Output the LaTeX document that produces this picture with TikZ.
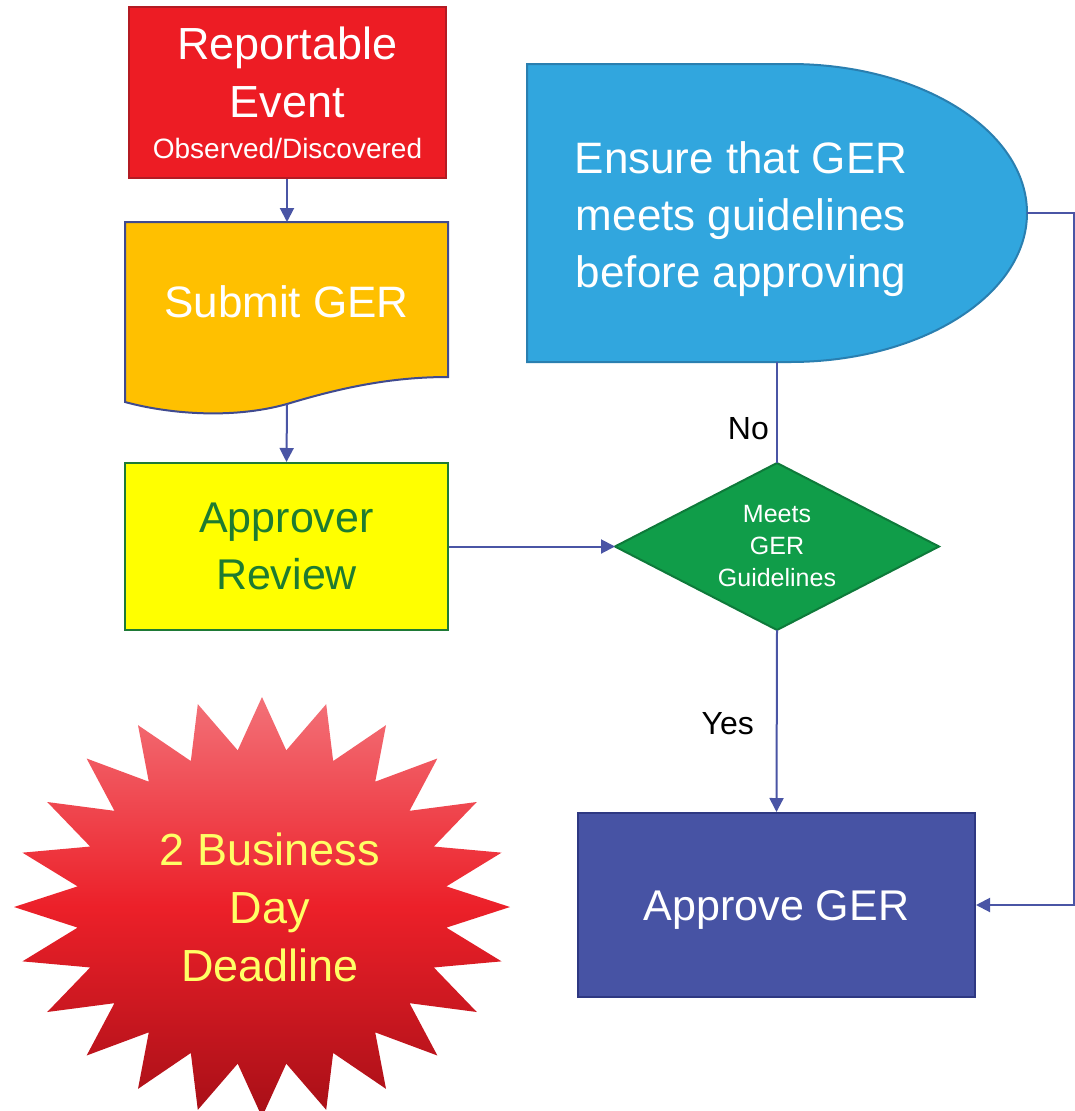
\documentclass[tikz,border=0pt]{standalone}
\usepackage{fontspec}
\setmainfont{Liberation Sans}
\usetikzlibrary{arrows.meta}
\definecolor{redfill}{HTML}{ED1C24}
\definecolor{redline}{HTML}{B31B23}
\definecolor{arrowc}{HTML}{4A55A5}
\definecolor{orangefill}{HTML}{FFC000}
\definecolor{docline}{HTML}{3F4A8F}
\definecolor{yellowfill}{HTML}{FFFF00}
\definecolor{greenline}{HTML}{1E7A36}
\definecolor{greentext}{HTML}{1E7B30}
\definecolor{diafill}{HTML}{109D49}
\definecolor{dialine}{HTML}{0E7A3A}
\definecolor{bluefill}{HTML}{31A6DE}
\definecolor{blueline}{HTML}{2A7FB0}
\definecolor{apfill}{HTML}{4753A4}
\definecolor{apline}{HTML}{2E3882}
\definecolor{startop}{HTML}{F37178}
\definecolor{starmid}{HTML}{EC2029}
\definecolor{starbot}{HTML}{A80F17}
\definecolor{staryel}{HTML}{FFFF66}
\pgfdeclareverticalshading{starshade}{100bp}{color(0bp)=(starbot); color(25bp)=(starbot); color(50bp)=(starmid); color(75bp)=(startop); color(100bp)=(startop)}
\begin{document}
\begin{tikzpicture}[x=1pt,y=-1pt,
  boxbase/.style={rectangle,inner sep=0pt,align=center,line width=2pt},
  conn/.style={draw=arrowc,line width=2pt,-{Triangle[length=14pt,width=14pt]}},
  thinconn/.style={draw=arrowc,line width=1.2pt},
  lbl/.style={font=\fontsize{32}{38}\selectfont,text=black,inner sep=0pt}
]
\useasboundingbox (0,0) rectangle (1074,1111);

% Reportable Event
\node[boxbase,fill=redfill,draw=redline,minimum width=317pt,minimum height=171pt,
  text=white,font=\fontsize{45}{58}\selectfont] (rep) at (287.5,92.5)
  {Reportable\\Event\\[-17pt]{\fontsize{28}{34}\selectfont Observed/Discovered}};

% Submit GER (document shape)
\draw[fill=orangefill,draw=docline,line width=2pt]
  (125,222) -- (448,222) -- (448,377)
  .. controls (390,377) and (340,388) .. (287,404)
  .. controls (230,420) and (165,413) .. (125,402) -- cycle;
\coordinate (subt) at (287,222);
\coordinate (subb) at (287,404);
\node[inner sep=0pt,text=white,font=\fontsize{44}{56}\selectfont] (sub) at (286.5,301.5) {Submit GER};

% Approver Review
\node[boxbase,fill=yellowfill,draw=greenline,minimum width=323pt,minimum height=167pt,
  text=greentext,font=\fontsize{43}{57}\selectfont] (rev) at (286.5,546.5)
  {Approver\\Review};

% Decision diamond
\coordinate (decw) at (615,546.5);
\coordinate (decn) at (777,463);
\coordinate (dece) at (939,546.5);
\coordinate (decs) at (777,630);
\draw[fill=diafill,draw=dialine,line width=2pt] (decw) -- (decn) -- (dece) -- (decs) -- cycle;
\node[inner sep=0pt,align=center,text=white,font=\fontsize{25}{32}\selectfont] (dec) at (777,546.5)
  {Meets\\GER\\Guidelines};

% Delay shape
\draw[fill=bluefill,draw=blueline,line width=2pt]
  (527,64) -- (790,64) .. controls (920.9,64) and (1027,130.7) .. (1027,213)
  .. controls (1027,295.3) and (920.9,362) .. (790,362) -- (527,362) -- cycle;
\coordinate (gdr) at (1027,213);
\coordinate (gdb) at (777,362);
\node[inner sep=0pt,align=center,text=white,font=\fontsize{44}{57}\selectfont] (gd) at (741,219.5)
  {Ensure that GER\\meets guidelines\\before approving};

% Approve GER
\node[boxbase,fill=apfill,draw=apline,minimum width=397pt,minimum height=184pt,
  text=white,font=\fontsize{43}{57}\selectfont,text height=31pt,text depth=0pt] (app) at (776.5,905)
  {Approve GER};

% Star
\path[shading=starshade]
  (510,907)
  \foreach \i in {0,...,23} {
    -- ({262+186*cos(15*\i+7.5)},{907-158*sin(15*\i+7.5)})
    -- ({262+248*cos(15*\i+15)},{907-210*sin(15*\i+15)})
  } -- cycle;
\node[inner sep=0pt,align=center,text=staryel,font=\fontsize{45}{58}\selectfont] (star) at (270,907)
  {2 Business\\Day\\Deadline};

% Connectors
\draw[conn] (rep.south -| subt) -- (subt);
\draw[conn] (subb) -- (rev.north);
\draw[conn] (rev.east) -- (decw);
\draw[thinconn] (decn) -- (gdb);
\draw[conn] (decs) -- (app.north);
\coordinate (c1) at (1074,213);
\coordinate (c2) at (1074,905);
\draw[conn] (gdr) -- (c1) -- (c2) -- (app.east);

% Labels
\node[lbl,anchor=base east] (no) at (769,439) {No};
\node[lbl,anchor=base east] (yes) at (754,734) {Yes};
\end{tikzpicture}
\end{document}
